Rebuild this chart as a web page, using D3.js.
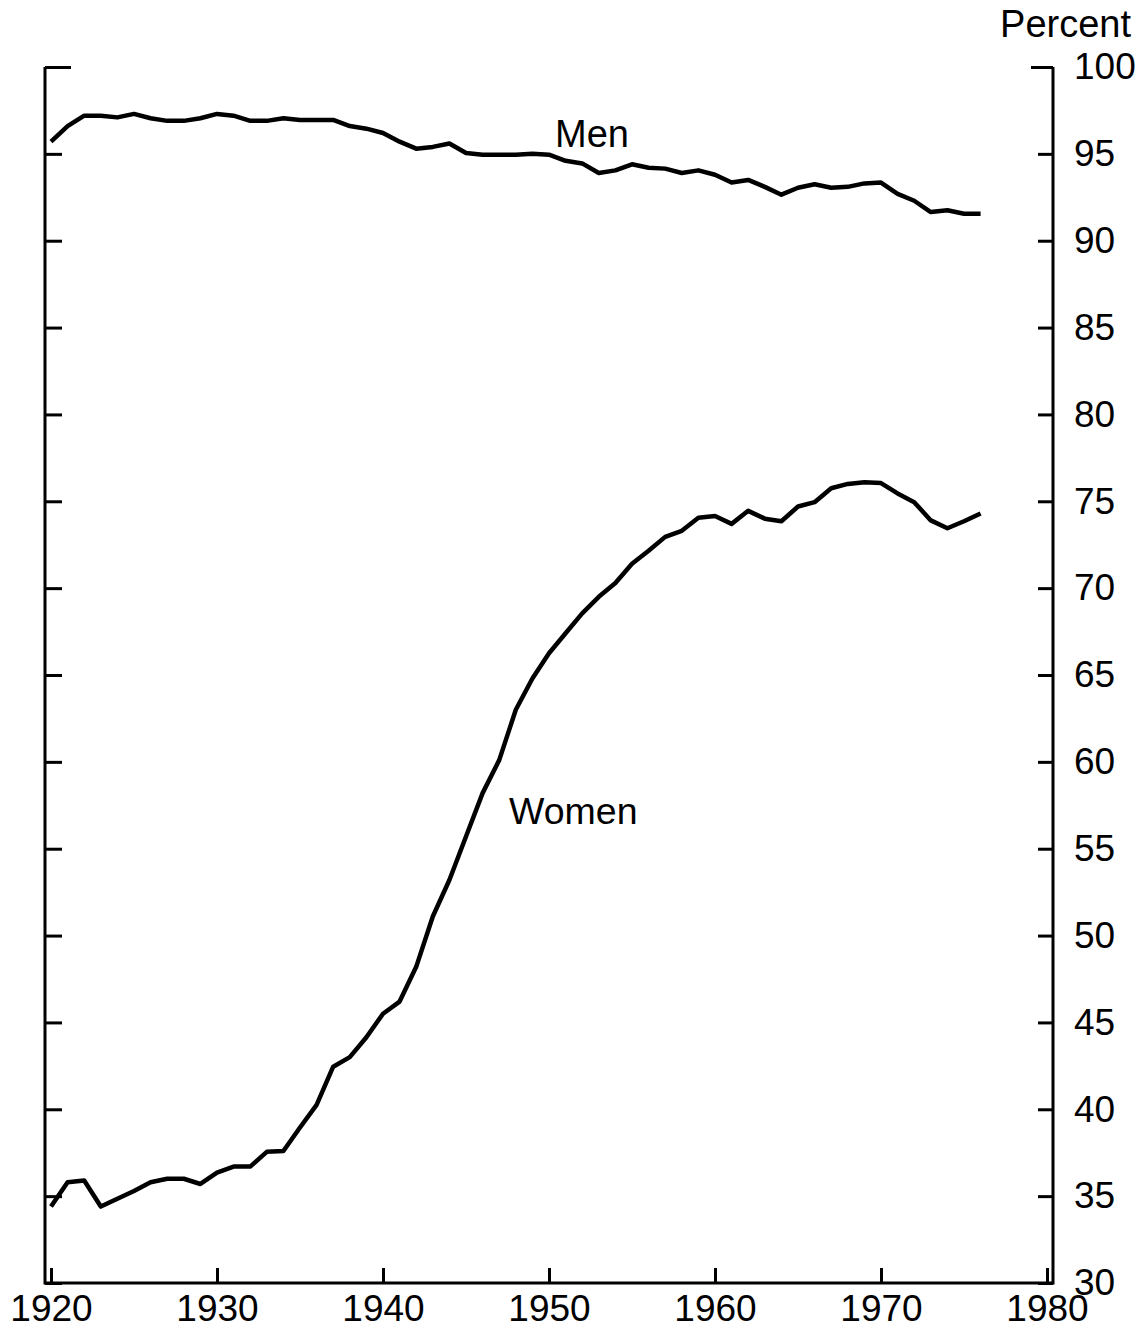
<!DOCTYPE html>
<html>
<head>
<meta charset="utf-8">
<script src="https://cdn.jsdelivr.net/npm/d3@7"></script>
<style>
  html, body { margin: 0; padding: 0; background: #fff; }
  svg text { font-family: "Liberation Sans", Arial, Helvetica, sans-serif; fill: #000; }
</style>
</head>
<body>
<svg id="chart" width="1148" height="1331"></svg>
<script>
// participation series, one value per year 1920..1976
const years = d3.range(1920, 1977);
const men = [
  95.7, 96.6, 97.2, 97.2, 97.1, 97.3, 97.05, 96.9, 96.9, 97.05,
  97.3, 97.2, 96.9, 96.9, 97.05, 96.95, 96.95, 96.95, 96.6, 96.45,
  96.2, 95.7, 95.3, 95.4, 95.6, 95.05, 94.95, 94.95, 94.95, 95.0,
  94.95, 94.6, 94.45, 93.9, 94.05, 94.4, 94.2, 94.15, 93.9, 94.05,
  93.8, 93.35, 93.5, 93.1, 92.65, 93.05, 93.25, 93.05, 93.1, 93.3,
  93.35, 92.7, 92.3, 91.65, 91.75, 91.55, 91.55
];
const women = [
  34.4, 35.8, 35.9, 34.4, 34.85, 35.3, 35.8, 36.0, 36.0, 35.7,
  36.35, 36.7, 36.7, 37.55, 37.6, 38.95, 40.25, 42.45, 43.0, 44.15,
  45.5, 46.2, 48.2, 51.1, 53.2, 55.7, 58.2, 60.1, 63.0, 64.8,
  66.25, 67.4, 68.55, 69.5, 70.3, 71.4, 72.15, 72.95, 73.3, 74.05,
  74.15, 73.7, 74.45, 74.0, 73.85, 74.7, 74.95, 75.75, 76.0, 76.1,
  76.05, 75.45, 74.95, 73.9, 73.45, 73.85, 74.3
];
const xTicks = [1920, 1930, 1940, 1950, 1960, 1970, 1980];
const yTicks = d3.range(30, 101, 5);

const svg = d3.select('#chart');
const frame = { left: 45, right: 1053, top: 67, bottom: 1283 };

const x = d3.scaleLinear().domain([1920, 1980]).range([51, 1047]);
const y = d3.scaleLinear().domain([30, 100]).range([frame.bottom, frame.top]);

// frame lines
svg.append('path')
  .attr('d', `M${frame.left},${frame.top}V${frame.bottom}H${frame.right}V${frame.top}`)
  .attr('fill', 'none')
  .attr('stroke', '#000')
  .attr('stroke-width', 3);

// left ticks, no labels
const left = svg.append('g')
  .attr('transform', `translate(${frame.left},0)`)
  .call(d3.axisLeft(y).tickValues(yTicks).tickSizeInner(-17).tickSizeOuter(0).tickFormat(''));

// right ticks with labels
const right = svg.append('g')
  .attr('transform', `translate(${frame.right},0)`)
  .call(d3.axisRight(y).tickValues(yTicks).tickSizeInner(-15).tickSizeOuter(0).tickPadding(21));

// bottom ticks
const bottom = svg.append('g')
  .attr('transform', `translate(0,${frame.bottom})`)
  .call(d3.axisBottom(x).tickValues(xTicks).tickSizeInner(-15).tickSizeOuter(0).tickPadding(12).tickFormat(d3.format('d')));

[left, right, bottom].forEach(g => {
  g.select('.domain').remove();
  g.selectAll('.tick line').attr('stroke', '#000').attr('stroke-width', 3);
  g.selectAll('.tick text').attr('font-size', 37).attr('fill', '#000');
});
// longer ticks at the top of the scale
left.selectAll('.tick').filter(d => d === 100).select('line').attr('x2', 26);
right.selectAll('.tick').filter(d => d === 100).select('line').attr('x2', -22);

svg.append('text')
  .attr('x', 1131).attr('y', 37)
  .attr('text-anchor', 'end')
  .attr('font-size', 38)
  .text('Percent');

const line = d3.line().x((d, i) => x(years[i])).y(d => y(d));

[men, women].forEach(s => {
  svg.append('path')
    .datum(s)
    .attr('d', line)
    .attr('fill', 'none')
    .attr('stroke', '#000')
    .attr('stroke-width', 4.5)
    .attr('stroke-linejoin', 'round');
});

svg.append('text').attr('x', 555).attr('y', 147).attr('font-size', 38).text('Men');
svg.append('text').attr('x', 509).attr('y', 824).attr('font-size', 37.5).text('Women');
</script>
</body>
</html>
